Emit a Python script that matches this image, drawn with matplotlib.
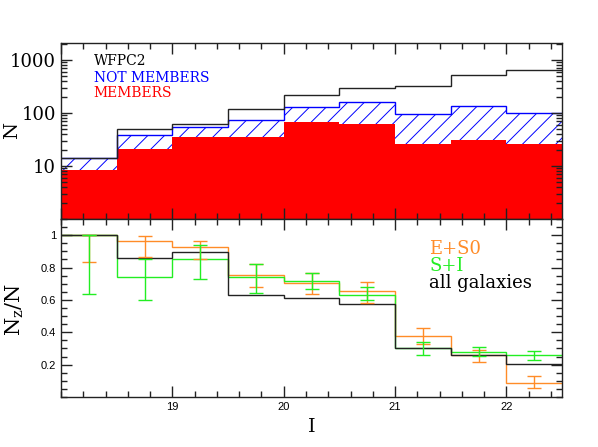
import numpy as np
import matplotlib
matplotlib.use('Agg')
import matplotlib.pyplot as plt
from matplotlib.ticker import MultipleLocator, LogLocator, NullFormatter

# I magnitude bins
edges = [18.0, 18.5, 19.0, 19.5, 20.0, 20.5, 21.0, 21.5, 22.0, 22.5]

# top panel: counts per bin
wfpc2 = [14, 49, 62, 121, 218, 290, 327, 519, 646]
members = [8.3, 20.5, 35, 35.5, 68, 63, 26, 31, 26]
not_members = [5.7, 18.5, 19, 39.5, 62, 96, 70, 102, 76]

# bottom panel: completeness fractions
frac_all = [1.0, 0.861, 0.898, 0.628, 0.61, 0.577, 0.30, 0.261, 0.204]
frac_es0 = [1.0, 0.963, 0.925, 0.753, 0.704, 0.657, 0.377, 0.261, 0.088]
frac_si = [1.0, 0.741, 0.855, 0.739, 0.718, 0.631, 0.30, 0.279, 0.257]

# error bar ranges (low end, high end)
es0_lo = [0.837, 0.867, 0.851, 0.68, 0.639, 0.582, 0.326, 0.218, 0.057]
es0_hi = [1.0, 0.997, 0.965, 0.82, 0.767, 0.708, 0.426, 0.29, 0.129]
si_lo = [0.634, 0.60, 0.729, 0.643, 0.667, 0.602, 0.259, 0.251, 0.23]
si_hi = [1.0, 0.851, 0.937, 0.82, 0.769, 0.68, 0.34, 0.308, 0.284]

ORANGE = '#ff8c28'
GREEN = '#22ee22'
DARK = '#222222'

plt.rcParams['mathtext.fontset'] = 'dejavuserif'
plt.rcParams['hatch.linewidth'] = 0.7

fig = plt.figure(figsize=(5.98, 4.47), dpi=100)
ax1 = fig.add_axes([0.102, 0.510, 0.838, 0.394])
ax2 = fig.add_axes([0.102, 0.112, 0.838, 0.398])

edges = np.array(edges)
members = np.array(members)
stack = members + np.array(not_members)

# --- top panel ---
ax1.set_yscale('log')
ax1.stairs(members, edges, baseline=0.5, fill=True, color='red', lw=0)
ax1.fill_between(edges, np.append(members, members[-1]), np.append(stack, stack[-1]),
                 step='post', facecolor='none', edgecolor='blue', hatch='//', lw=0)
ax1.stairs(stack, edges, baseline=None, color='blue', lw=1)
ax1.stairs(wfpc2, edges, baseline=None, color=DARK, lw=1)

ax1.set_xlim(18, 22.5)
ax1.set_ylim(1, 2100)
ax1.set_yticks([10, 100, 1000])
ax1.set_yticklabels(['10', '100', '1000'], family='DejaVu Serif', fontsize=13)
ax1.yaxis.set_minor_locator(LogLocator(base=10, subs=np.arange(2, 10)))
ax1.yaxis.set_minor_formatter(NullFormatter())
ax1.xaxis.set_major_locator(MultipleLocator(1))
ax1.xaxis.set_minor_locator(MultipleLocator(0.2))
ax1.tick_params(labelbottom=False)

ax1.text(0.065, 0.90, 'WFPC2', transform=ax1.transAxes, color='black',
         family='DejaVu Serif', fontsize=10, va='center')
ax1.text(0.065, 0.80, 'NOT MEMBERS', transform=ax1.transAxes, color='blue',
         family='DejaVu Serif', fontsize=10, va='center')
ax1.text(0.065, 0.715, 'MEMBERS', transform=ax1.transAxes, color='red',
         family='DejaVu Serif', fontsize=10, va='center')

# --- bottom panel ---
centers = (edges[:-1] + edges[1:]) / 2
es0_lo, es0_hi = np.array(es0_lo), np.array(es0_hi)
si_lo, si_hi = np.array(si_lo), np.array(si_hi)

ax2.stairs(frac_es0, edges, baseline=None, color=ORANGE, lw=1)
ax2.errorbar(centers, (es0_lo + es0_hi) / 2, yerr=(es0_hi - es0_lo) / 2, fmt='none',
             ecolor=ORANGE, elinewidth=1, capsize=5, capthick=1)
ax2.stairs(frac_si, edges, baseline=None, color=GREEN, lw=1)
ax2.errorbar(centers, (si_lo + si_hi) / 2, yerr=(si_hi - si_lo) / 2, fmt='none',
             ecolor=GREEN, elinewidth=1, capsize=5, capthick=1)
ax2.stairs(frac_all, edges, baseline=None, color=DARK, lw=1)

ax2.set_xlim(18, 22.5)
ax2.set_ylim(0, 1.1)
ax2.set_yticks([0.2, 0.4, 0.6, 0.8, 1.0])
ax2.set_yticklabels(['0.2', '0.4', '0.6', '0.8', '1'])
ax2.yaxis.set_minor_locator(MultipleLocator(0.05))
ax2.xaxis.set_major_locator(MultipleLocator(1))
ax2.xaxis.set_minor_locator(MultipleLocator(0.2))
ax2.set_xticks([19, 20, 21, 22])
ax2.set_xticklabels(['19', '20', '21', '22'])
for lab in ax2.get_xticklabels() + ax2.get_yticklabels():
    lab.set_family('Liberation Sans')
    lab.set_fontsize(8)

ax2.text(0.735, 0.83, 'E+S0', transform=ax2.transAxes, color=ORANGE,
         family='DejaVu Serif', fontsize=13, va='center')
ax2.text(0.735, 0.735, 'S+I', transform=ax2.transAxes, color=GREEN,
         family='DejaVu Serif', fontsize=13, va='center')
ax2.text(0.735, 0.64, 'all galaxies', transform=ax2.transAxes, color='black',
         family='DejaVu Serif', fontsize=13, va='center')

for ax in (ax1, ax2):
    ax.tick_params(which='both', direction='in', top=True, right=True, color=DARK)
    ax.tick_params(which='major', length=8, width=1)
    ax.tick_params(which='minor', length=4, width=1)
    for s in ax.spines.values():
        s.set_color(DARK)
        s.set_linewidth(1)

fig.text(0.02, 0.709, 'N', rotation=90, ha='center', va='center',
         family='DejaVu Serif', fontsize=14)
fig.text(0.025, 0.307, r'$\mathrm{N_z/N}$', rotation=90, ha='center', va='center',
         fontsize=15)
fig.text(0.522, 0.045, 'I', ha='center', va='center', family='DejaVu Serif', fontsize=14)

fig.savefig('out.png', dpi=100)
